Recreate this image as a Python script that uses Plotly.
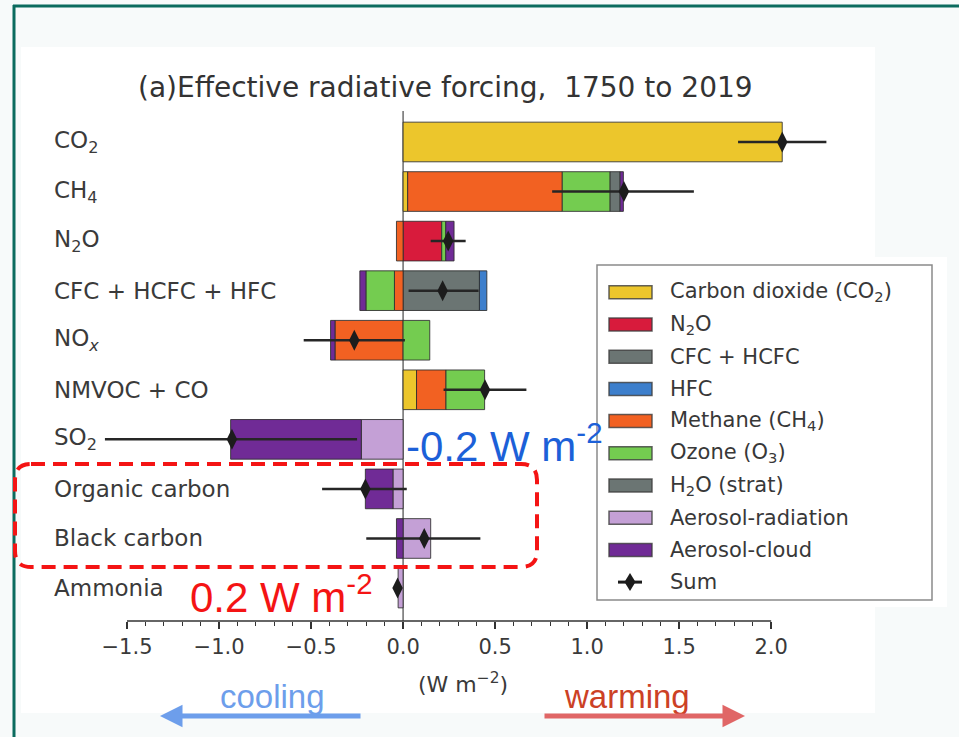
import plotly.graph_objects as go
import numpy as np

# ---------------- data ----------------
categories = ["CO<sub>2</sub>", "CH<sub>4</sub>", "N<sub>2</sub>O", "CFC + HCFC + HFC",
              "NO<sub><i>x</i></sub>", "NMVOC + CO", "SO<sub>2</sub>",
              "Organic carbon", "Black carbon", "Ammonia"]

co2       = [2.06, 0.025, None, None, None, 0.073, None, None, None, None]
n2o       = [None, None, 0.21, None, None, None, None, None, None, None]
cfc_hcfc  = [None, None, None, 0.415, None, None, None, None, None, None]
hfc       = [None, None, None, 0.04, None, None, None, None, None, None]
methane   = [None, 0.84, -0.036, -0.047, -0.37, 0.16, None, None, None, None]
ozone     = [None, 0.26, 0.022, -0.155, 0.145, 0.21, None, None, None, None]
h2o_strat = [None, 0.054, None, None, None, None, None, None, None, None]
aer_rad   = [None, None, None, None, None, None, -0.227, -0.055, 0.15, -0.027]
aer_cloud = [None, 0.018, 0.045, -0.033, -0.024, None, -0.71, -0.15, -0.036, None]

total     = [2.06, 1.20, 0.245, 0.215, -0.265, 0.445, -0.93, -0.205, 0.115, -0.03]
total_lo  = [1.82, 0.81, 0.15, 0.03, -0.54, 0.22, -1.62, -0.44, -0.20, -0.04]
total_hi  = [2.30, 1.58, 0.34, 0.41, 0.01, 0.67, -0.25, 0.02, 0.42, -0.02]

series_names = ["Carbon dioxide (CO<sub>2</sub>)", "N<sub>2</sub>O", "CFC + HCFC", "HFC",
                "Methane (CH<sub>4</sub>)", "Ozone (O<sub>3</sub>)", "H<sub>2</sub>O (strat)",
                "Aerosol-radiation", "Aerosol-cloud"]
series_colors = ["#ecc62c", "#d81b3c", "#6b7573", "#3d7fcc", "#f26122",
                 "#74cc50", "#6b7573", "#c4a0d6", "#702b96"]
series_values = [co2, n2o, cfc_hcfc, hfc, methane, ozone, h2o_strat, aer_rad, aer_cloud]

xticks = [-1.5, -1.0, -0.5, 0.0, 0.5, 1.0, 1.5, 2.0]
xticktext = ["\u22121.5", "\u22121.0", "\u22120.5", "0.0", "0.5", "1.0", "1.5", "2.0"]

# ---------------- layout geometry (pixels) ----------------
W, H = 959, 737
L, R, T, B = 81, 854, 111, 621


def X(px):
    return (px - L) / (R - L)


def Y(py):
    return (B - py) / (B - T)


ypos = list(range(len(categories)))
fig = go.Figure()

for name, vals, col in zip(series_names, series_values, series_colors):
    fig.add_trace(go.Bar(
        y=ypos, x=vals, orientation="h", name=name, width=0.8,
        marker=dict(color=col, line=dict(color="rgba(45,45,45,0.85)", width=1)),
        showlegend=False, hoverinfo="x+name"))

tot = np.array(total)
fig.add_trace(go.Scatter(
    y=ypos, x=total, mode="markers", name="Sum", showlegend=False,
    marker=dict(symbol="diamond-tall", size=15, color="#1c1c1c"),
    error_x=dict(type="data", symmetric=False,
                 array=list(np.array(total_hi) - tot),
                 arrayminus=list(tot - np.array(total_lo)),
                 width=0, thickness=2.5, color="#262626"),
    cliponaxis=False))

shapes = []
# background panels
shapes.append(dict(type="rect", xref="paper", yref="paper", x0=X(21), x1=X(875), y0=Y(713), y1=Y(47),
                   fillcolor="white", line=dict(width=0), layer="below"))
shapes.append(dict(type="rect", xref="paper", yref="paper", x0=X(874), x1=X(947), y0=Y(607), y1=Y(257),
                   fillcolor="white", line=dict(width=0), layer="below"))
# green frame
shapes.append(dict(type="line", xref="paper", yref="paper", x0=X(13), x1=X(970), y0=Y(6), y1=Y(6),
                   line=dict(color="#0b6b5e", width=3), layer="below"))
shapes.append(dict(type="line", xref="paper", yref="paper", x0=X(14), x1=X(14), y0=Y(5), y1=Y(745),
                   line=dict(color="#0b6b5e", width=3), layer="below"))
# zero line
shapes.append(dict(type="line", xref="x", yref="paper", x0=0, x1=0, y0=0, y1=1,
                   line=dict(color="#555555", width=1.3), layer="below"))
# bottom spine limited to tick range
shapes.append(dict(type="line", xref="x", yref="paper", x0=xticks[0], x1=xticks[-1], y0=0, y1=0,
                   line=dict(color="#333333", width=1.5), layer="above"))

# red dashed rounded box
x0b, x1b, y0b, y1b, rr = 15, 537, 464, 567, 16
path = (f"M {X(x0b + rr)},{Y(y0b)} L {X(x1b - rr)},{Y(y0b)} "
        f"Q {X(x1b)},{Y(y0b)} {X(x1b)},{Y(y0b + rr)} L {X(x1b)},{Y(y1b - rr)} "
        f"Q {X(x1b)},{Y(y1b)} {X(x1b - rr)},{Y(y1b)} L {X(x0b + rr)},{Y(y1b)} "
        f"Q {X(x0b)},{Y(y1b)} {X(x0b)},{Y(y1b - rr)} L {X(x0b)},{Y(y0b + rr)} "
        f"Q {X(x0b)},{Y(y0b)} {X(x0b + rr)},{Y(y0b)} Z")
shapes.append(dict(type="path", xref="paper", yref="paper", path=path,
                   line=dict(color="#f41414", width=4, dash="14px,8px"), layer="above"))

# custom legend
lx0, lx1, ly0, ly1 = 597, 932, 265, 600
shapes.append(dict(type="rect", xref="paper", yref="paper", x0=X(lx0), x1=X(lx1), y0=Y(ly1), y1=Y(ly0),
                   fillcolor="white", line=dict(color="#8a8a8a", width=1.5), layer="above"))
row0, step = 292.3, 32.2
annotations = []
for i, (name, col) in enumerate(zip(series_names, series_colors)):
    cy = row0 + i * step
    shapes.append(dict(type="rect", xref="paper", yref="paper", x0=X(609), x1=X(652),
                       y0=Y(cy + 6.5), y1=Y(cy - 6.5), fillcolor=col,
                       line=dict(color="rgba(60,60,60,0.8)", width=1.5), layer="above"))
    annotations.append(dict(xref="paper", yref="paper", x=X(668), y=Y(cy), text=name,
                            xanchor="left", yanchor="middle", showarrow=False,
                            font=dict(family="DejaVu Sans", size=21, color="#383838")))
cy = row0 + len(series_names) * step
cx = 630
shapes.append(dict(type="path", xref="paper", yref="paper",
                   path=(f"M {X(cx)},{Y(cy - 9)} L {X(cx + 5.5)},{Y(cy)} L {X(cx)},{Y(cy + 9)} "
                         f"L {X(cx - 5.5)},{Y(cy)} Z"),
                   fillcolor="#1c1c1c", line=dict(width=0), layer="above"))
shapes.append(dict(type="line", xref="paper", yref="paper", x0=X(cx - 12), x1=X(cx + 12),
                   y0=Y(cy), y1=Y(cy), line=dict(color="#1c1c1c", width=3), layer="above"))
annotations.append(dict(xref="paper", yref="paper", x=X(668), y=Y(cy), text="Sum",
                        xanchor="left", yanchor="middle", showarrow=False,
                        font=dict(family="DejaVu Sans", size=21, color="#383838")))

# category labels (left aligned)
for i, c in enumerate(categories):
    annotations.append(dict(xref="paper", yref="y", x=X(52), y=i, text=c, xanchor="left",
                            yanchor="middle", showarrow=False,
                            font=dict(family="DejaVu Sans", size=23, color="#3a3a3a")))

# title
annotations.append(dict(xref="paper", yref="paper", x=X(445), y=Y(88),
                        text="(a)Effective radiative forcing,  1750 to 2019",
                        xanchor="center", yanchor="middle", showarrow=False,
                        font=dict(family="DejaVu Sans", size=28, color="#333333")))
# x axis title
annotations.append(dict(xref="paper", yref="paper", x=X(463), y=Y(683),
                        text="(W m<sup>\u22122</sup>)", xanchor="center", yanchor="middle",
                        showarrow=False, font=dict(family="DejaVu Sans", size=22, color="#3a3a3a")))
# highlight notes
annotations.append(dict(xref="paper", yref="paper", x=X(404), y=Y(443),
                        text="-0.2 W m<sup>-2</sup>", xanchor="left", yanchor="middle",
                        showarrow=False, font=dict(family="Liberation Sans", size=42, color="#1c60d8")))
annotations.append(dict(xref="paper", yref="paper", x=X(188), y=Y(594),
                        text="0.2 W m<sup>-2</sup>", xanchor="left", yanchor="middle",
                        showarrow=False, font=dict(family="Liberation Sans", size=42, color="#f41414")))
# cooling / warming
annotations.append(dict(xref="paper", yref="paper", x=X(272), y=Y(696), text="cooling",
                        xanchor="center", yanchor="middle", showarrow=False,
                        font=dict(family="Liberation Sans", size=33, color="#6d9eeb")))
annotations.append(dict(xref="paper", yref="paper", x=X(627), y=Y(696), text="warming",
                        xanchor="center", yanchor="middle", showarrow=False,
                        font=dict(family="Liberation Sans", size=33, color="#cc4125")))
annotations.append(dict(xref="paper", yref="paper", x=X(160), y=Y(716), ax=202, ay=0,
                        axref="pixel", ayref="pixel", text="", showarrow=True,
                        arrowhead=2, arrowsize=0.9, arrowwidth=5, arrowcolor="#6d9eeb"))
annotations.append(dict(xref="paper", yref="paper", x=X(745), y=Y(716), ax=-202, ay=0,
                        axref="pixel", ayref="pixel", text="", showarrow=True,
                        arrowhead=2, arrowsize=0.9, arrowwidth=5, arrowcolor="#e06666"))

minor_vals = [round(v, 1) for v in np.arange(xticks[0], xticks[-1] + 1e-9, 0.1)]

fig.update_layout(
    width=W, height=H, barmode="relative", bargap=0.2,
    margin=dict(l=L, r=W - R, t=T, b=H - B, pad=0),
    paper_bgcolor="#f7fafa", plot_bgcolor="rgba(0,0,0,0)",
    shapes=shapes, annotations=annotations, showlegend=False,
    font=dict(family="DejaVu Sans", color="#333333"),
    xaxis=dict(range=[-1.75, 2.45], tickmode="array", tickvals=xticks, ticktext=xticktext,
               ticks="outside", ticklen=7, tickwidth=1.5, tickcolor="#333333",
               showgrid=False, zeroline=False, showline=False,
               tickfont=dict(family="DejaVu Sans", size=21, color="#3a3a3a"),
               minor=dict(tickmode="array", tickvals=minor_vals, ticks="outside",
                          ticklen=4, tickwidth=1, tickcolor="#333333", showgrid=False)),
    yaxis=dict(range=[9.665, -0.625], showticklabels=False, showgrid=False,
               zeroline=False, showline=False, ticks=""),
)

fig.write_html("out.html")
